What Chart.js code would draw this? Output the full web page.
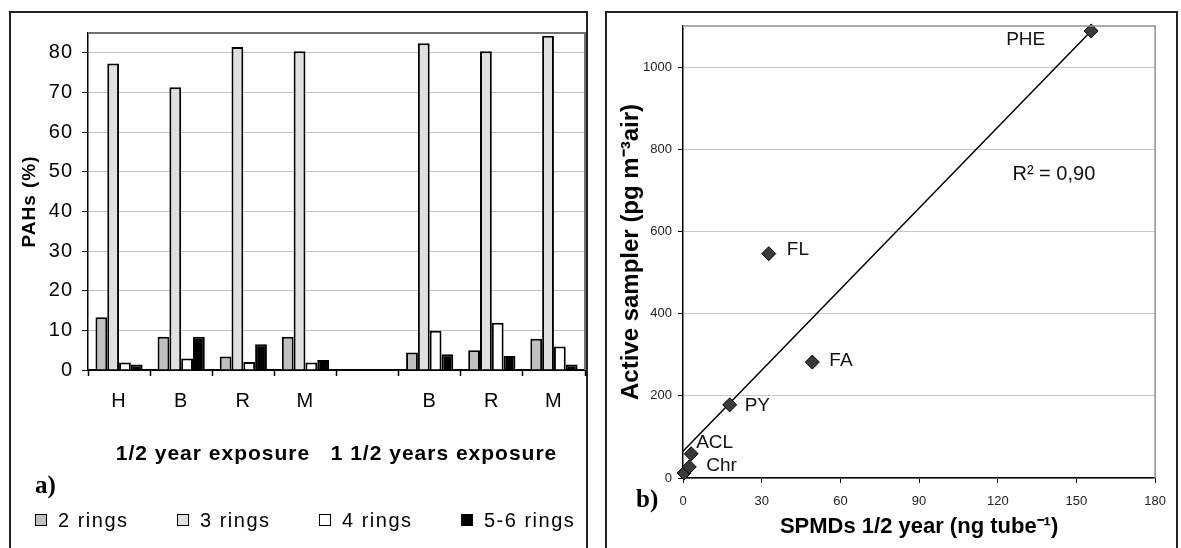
<!DOCTYPE html>
<html>
<head>
<meta charset="utf-8">
<script src="https://cdn.jsdelivr.net/npm/chart.js@4"></script>
<style>
  html, body { margin: 0; padding: 0; background: #fff; }
  body { width: 1181px; height: 548px; overflow: hidden; position: relative; font-family: "Liberation Sans", Arial, sans-serif; }
  .frame { position: absolute; border: 2px solid #222; box-sizing: border-box; }
  .box { position: absolute; }
  .tag { position: absolute; font-family: "Liberation Serif", "Times New Roman", serif; font-weight: bold; font-size: 25px; line-height: 28px; color: #000; }
  #legendA { position: absolute; left: 35px; top: 508px; height: 24px; display: flex; }
  #legendA .item { width: 142px; display: flex; align-items: center; font-size: 20px; letter-spacing: 1.5px; color: #000; white-space: nowrap; }
  #legendA .swatch { width: 12px; height: 12px; border: 1px solid #000; box-sizing: border-box; margin-right: 11px; }
</style>
</head>
<body>

<div class="frame" style="left:9px; top:11px; width:579px; height:560px;"></div>
<div class="frame" style="left:605px; top:11px; width:573px; height:560px;"></div>

<div class="box" style="left:10px; top:12px; width:577px; height:536px;"><canvas id="chartA"></canvas></div>
<div class="box" style="left:606px; top:12px; width:571px; height:536px;"><canvas id="chartB"></canvas></div>

<div class="tag" style="left:35px; top:471px;">a)</div>
<div class="tag" style="left:636px; top:485px;">b)</div>
<div id="legendA"></div>

<script>
/* a) PAH ring classes, % */
var sites = ['H', 'B', 'R', 'M', '', 'B', 'R', 'M']
var ring2 = [13.3, 8.4, 3.4, 8.4, null, 4.4, 5.0, 7.9]
var ring3 = [77.3, 71.3, 81.5, 80.4, null, 82.4, 80.4, 84.3]
var ring4 = [1.9, 2.9, 2.0, 1.9, null, 9.9, 11.9, 5.9]
var ring56 = [1.4, 8.4, 6.5, 2.5, null, 4.0, 3.5, 1.4]

/* b) SPMD vs active sampler */
var pointNames = ['', 'Chr', 'ACL', 'PY', 'FL', 'FA', 'PHE']
var spmdX = [0.4, 2.4, 3.1, 17.8, 32.7, 49.3, 155.6]
var activeY = [12, 27, 59, 178, 546, 282, 1088]
var trendX = [0, 155.6]
var trendY = [65, 1088]
var r2Text = 'R² = 0,90'

var fontSans = '"Liberation Sans", Arial, sans-serif'
var tagOffset = [[0, 0], [17, -1], [5, -11], [15, 1], [18, -4], [17, -1], [-85, 9]]
var r2At = [125.6, 738]


// grey top/right border of the plot area
function plotBorder(color, width) {
	return {
		id: 'plotBorder',
		afterDraw: function(chart) {
			var a = chart.chartArea
			var c = chart.ctx
			c.save()
			c.strokeStyle = color
			c.lineWidth = width
			c.beginPath()
			c.moveTo(a.left, a.top)
			c.lineTo(a.right, a.top)
			c.lineTo(a.right, a.bottom)
			c.stroke()
			c.restore()
		}
	}
}

var wideText = {
	id: 'wideText',
	beforeDraw: function(chart) {
		chart.ctx.letterSpacing = '1px'
	}
}

var ctxA = document.getElementById('chartA').getContext('2d')
var chartA = new Chart(ctxA, {
	type: 'bar',
	data: {
		labels: sites,
		datasets: [
			{ label: '2 rings', data: ring2, backgroundColor: '#c0c0c0' },
			{ label: '3 rings', data: ring3, backgroundColor: '#e0e0e0' },
			{ label: '4 rings', data: ring4, backgroundColor: '#ffffff' },
			{ label: '5-6 rings', data: ring56, backgroundColor: '#000000' }
		]
	},
	options: {
		responsive: true,
		maintainAspectRatio: false,
		animation: false,
		datasets: {
			bar: { borderColor: '#000', borderWidth: 2, categoryPercentage: 0.76, barPercentage: 1.0 }
		},
		layout: { padding: { top: 20, right: 2, left: 0, bottom: 81 } },
		plugins: { legend: { display: false }, tooltip: { enabled: false } },
		scales: {
			x: {
				grid: { offset: true, drawOnChartArea: false, tickColor: '#000', tickLength: 6, tickWidth: 1.5 },
				border: { color: '#000', width: 2 },
				ticks: { color: '#000', font: { family: fontSans, size: 20 }, padding: 13, maxRotation: 0, autoSkip: false },
				title: {
					display: true,
					text: '1/2 year exposure   1 1/2 years exposure',
					color: '#000',
					font: { family: fontSans, size: 21, weight: 'bold' },
					padding: 0
				},
				afterFit: function(s) { s.height = 97 }
			},
			y: {
				min: 0,
				max: 85,
				ticks: { stepSize: 10, includeBounds: false, color: '#000', font: { family: fontSans, size: 20 }, padding: 9 },
				grid: { color: '#c0c0c0', tickColor: '#000', tickLength: 6 },
				border: { color: '#000', width: 1.5 },
				title: {
					display: true,
					text: 'PAHs (%)',
					color: '#000',
					font: { family: fontSans, size: 19, weight: 'bold' },
					padding: { top: 8, bottom: 0 }
				},
				afterFit: function(s) { s.width = 78 }
			}
		}
	},
	plugins: [wideText, plotBorder('#707070', 2)]
})

// legend under panel a)
var legendA = document.getElementById('legendA')
chartA.data.datasets.forEach(function(ds) {
	var item = document.createElement('div')
	item.className = 'item'
	var sw = document.createElement('span')
	sw.className = 'swatch'
	sw.style.background = ds.backgroundColor
	item.appendChild(sw)
	item.appendChild(document.createTextNode(ds.label))
	legendA.appendChild(item)
})


var pointTags = {
	id: 'pointTags',
	afterDatasetsDraw: function(chart) {
		var meta = chart.getDatasetMeta(0)
		var c = chart.ctx
		c.save()
		c.fillStyle = '#111'
		c.textBaseline = 'middle'
		c.textAlign = 'left'
		c.font = '19px ' + fontSans
		meta.data.forEach(function(pt, i) {
			if (!pointNames[i]) return
			c.fillText(pointNames[i], pt.x + tagOffset[i][0], pt.y + tagOffset[i][1])
		})
		c.font = '20px ' + fontSans
		c.fillText(r2Text, chart.scales.x.getPixelForValue(r2At[0]), chart.scales.y.getPixelForValue(r2At[1]))
		c.restore()
	}
}

var points = spmdX.map(function(x, i) { return { x: x, y: activeY[i] } })
var trend = trendX.map(function(x, i) { return { x: x, y: trendY[i] } })

var ctxB = document.getElementById('chartB').getContext('2d')
var chartB = new Chart(ctxB, {
	type: 'scatter',
	data: {
		datasets: [
			{
				label: 'PAHs',
				data: points,
				pointStyle: 'rectRot',
				pointRadius: 7,
				backgroundColor: '#3a3a3a',
				borderColor: '#000',
				borderWidth: 1,
				clip: false,
				order: 0
			},
			{
				type: 'line',
				label: 'trend',
				data: trend,
				borderColor: '#000',
				borderWidth: 1.5,
				pointRadius: 0,
				fill: false,
				clip: false,
				order: 1
			}
		]
	},
	options: {
		responsive: true,
		maintainAspectRatio: false,
		animation: false,
		layout: { padding: { top: 14, right: 8, left: 0, bottom: 6 } },
		plugins: { legend: { display: false }, tooltip: { enabled: false } },
		scales: {
			x: {
				type: 'linear',
				min: 0,
				max: 180,
				ticks: { stepSize: 30, color: '#222', font: { family: fontSans, size: 13 }, padding: 11 },
				grid: { drawOnChartArea: false, tickColor: '#000', tickLength: 5 },
				border: { color: '#000', width: 1.5 },
				title: {
					display: true,
					text: 'SPMDs 1/2 year (ng tube⁻¹)',
					color: '#000',
					font: { family: fontSans, size: 22, weight: 'bold' },
					padding: { top: 0, bottom: 2 }
				},
				afterFit: function(s) { s.height = 64 }
			},
			y: {
				min: 0,
				max: 1100,
				ticks: {
					stepSize: 200,
					includeBounds: false,
					color: '#222',
					font: { family: fontSans, size: 13 },
					padding: 6,
					callback: function(v) { return String(v) }
				},
				grid: { color: '#c8c8c8', tickColor: '#000', tickLength: 5 },
				border: { color: '#000', width: 1.5 },
				title: {
					display: true,
					text: 'Active sampler (pg m⁻³air)',
					color: '#000',
					font: { family: fontSans, size: 24, weight: 'bold' },
					padding: { top: 11, bottom: 0 }
				},
				afterFit: function(s) { s.width = 77 }
			}
		}
	},
	plugins: [pointTags, plotBorder('#909090', 1.5)]
})
</script>
</body>
</html>
